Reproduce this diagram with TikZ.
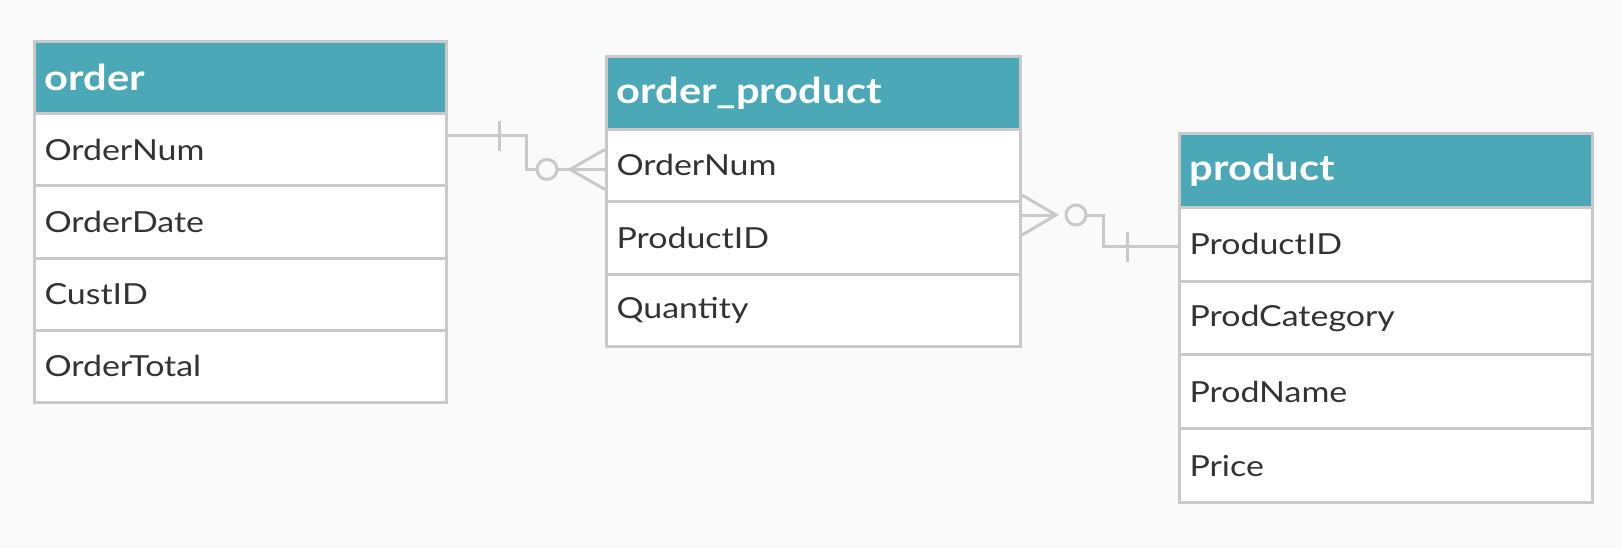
\documentclass[tikz,border=0pt]{standalone}
\usepackage{fontspec}
\setmainfont[FakeStretch=1.17]{Lato}
\usetikzlibrary{calc}
\definecolor{linegray}{HTML}{C9C9C9}
\definecolor{hdrteal}{HTML}{4AA8B7}
\definecolor{txtgray}{HTML}{333333}
\definecolor{bggray}{HTML}{FAFAFA}
\begin{document}
\begin{tikzpicture}[x=0.5pt,y=-0.5pt,
  tbl/.style={draw=linegray, line width=1.5pt, anchor=north west, inner xsep=5pt, inner ysep=0pt, align=left},
  hdr/.style={tbl, fill=hdrteal, text=white, font=\fontsize{17.8}{20}\selectfont\bfseries},
  fld/.style={tbl, fill=white, text=txtgray, font=\fontsize{14.5}{17}\selectfont},
  conn/.style={draw=linegray, line width=1.5pt}]
\useasboundingbox[fill=bggray] (0,0) rectangle (1622,548);
% order table
\begin{scope}[every node/.append style={text width=196pt, minimum height=36.1pt}]
\node[hdr] (ord0) at (33,40) {order};
\node[fld] (ord1) at (33,112.2) {OrderNum};
\node[fld] (ord2) at (33,184.4) {OrderDate};
\node[fld] (ord3) at (33,256.6) {CustID};
\node[fld] (ord4) at (33,328.8) {OrderTotal};
\end{scope}
% order_product table
\begin{scope}[every node/.append style={text width=197pt, minimum height=36.3pt}]
\node[hdr] (op0) at (605,55) {order\_product};
\node[fld] (op1) at (605,127.6) {OrderNum};
\node[fld] (op2) at (605,200.2) {ProductID};
\node[fld] (op3) at (605,272.8) {Quantity};
\end{scope}
% product table
\begin{scope}[every node/.append style={text width=196.5pt, minimum height=36.9pt}]
\node[hdr] (pr0) at (1178,132) {product};
\node[fld] (pr1) at (1178,205.8) {ProductID};
\node[fld] (pr2) at (1178,279.6) {ProdCategory};
\node[fld] (pr3) at (1178,353.4) {ProdName};
\node[fld] (pr4) at (1178,427.2) {Price};
\end{scope}
% connector order -- order_product
\coordinate (a1) at ([yshift=7pt]ord1.east);
\coordinate (b1) at ([yshift=-2pt]op1.west);
\draw[conn] (a1) -| ($(b1)+(-79,0)$) -- ($(b1)+(-68,0)$);
\draw[conn] ($(b1)+(-58,0)$) circle[radius=5pt];
\draw[conn] ($(b1)+(-48,0)$) -- (b1);
\draw[conn] ([yshift=10pt]b1) -- ($(b1)+(-35,0)$) -- ([yshift=-10pt]b1);
\draw[conn] ($(a1)+(51,-15)$) -- ($(a1)+(51,15)$);
% connector order_product -- product
\coordinate (c2) at ([yshift=11.5pt]op2.east);
\coordinate (d2) at ([yshift=-1.25pt]pr1.west);
\draw[conn] (c2) -- ($(c2)+(34,0)$);
\draw[conn] ([yshift=10pt]c2) -- ($(c2)+(34,0)$) -- ([yshift=-10pt]c2);
\draw[conn] ($(c2)+(54,0)$) circle[radius=5pt];
\draw[conn] ($(c2)+(64,0)$) -- ($(c2)+(81,0)$) |- (d2);
\draw[conn] ($(d2)+(-51,-15)$) -- ($(d2)+(-51,15)$);
\end{tikzpicture}
\end{document}
